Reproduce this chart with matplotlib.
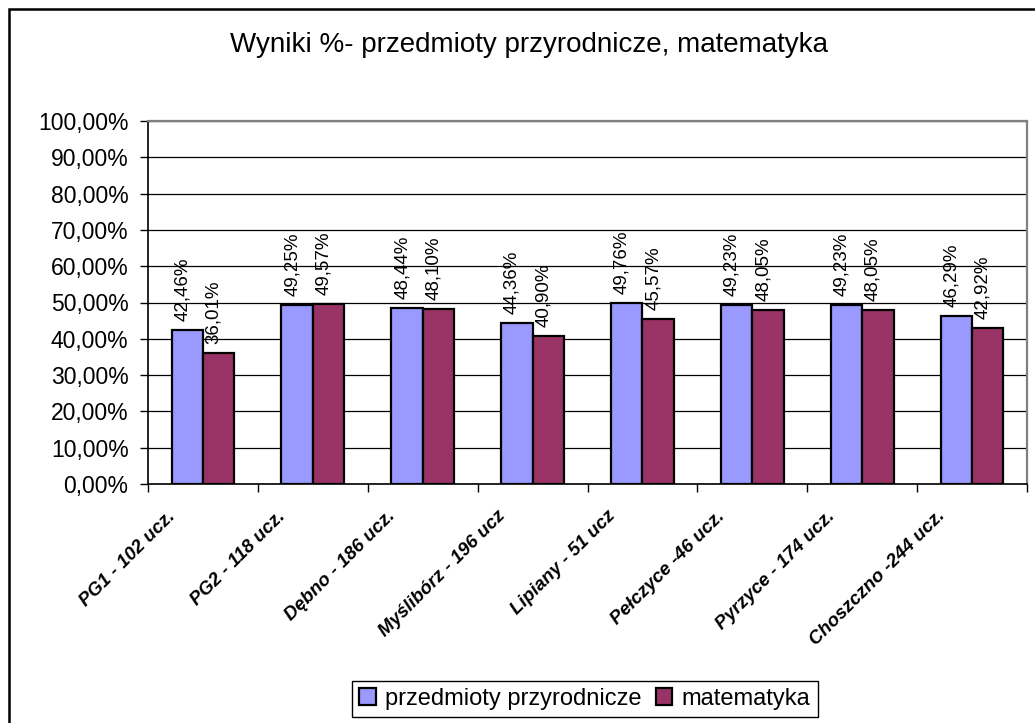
import numpy as np
import matplotlib.pyplot as plt
import matplotlib.transforms as mtransforms
from matplotlib.patches import Rectangle
from matplotlib.ticker import FixedLocator, FuncFormatter, MultipleLocator

plt.rcParams['font.family'] = ['Liberation Sans', 'DejaVu Sans']

# data (percent)
schools = ['PG1 - 102 ucz.', 'PG2 - 118 ucz.', 'Dębno - 186 ucz.', 'Myślibórz - 196 ucz',
           'Lipiany - 51 ucz', 'Pełczyce -46 ucz.', 'Pyrzyce - 174 ucz.', 'Choszczno -244 ucz.']
przyrodnicze = [42.46, 49.25, 48.44, 44.36, 49.76, 49.23, 49.23, 46.29]
matematyka = [36.01, 49.57, 48.10, 40.90, 45.57, 48.05, 48.05, 42.92]
series_names = ['przedmioty przyrodnicze', 'matematyka']
colors = ['#9999FF', '#993366']


def pct(v):
    return f'{v:.2f}%'.replace('.', ',')


fig = plt.figure(figsize=(10.35, 7.23), dpi=100)
W, H = 1035, 723
ax = fig.add_axes([148 / W, 1 - 484 / H, (1027 - 148) / W, (484 - 121) / H])

x = np.arange(len(schools))
w = 0.2857
b1 = ax.bar(x - w / 2, przyrodnicze, w, color=colors[0], edgecolor='black',
            linewidth=1.6, label=series_names[0], zorder=3)
b2 = ax.bar(x + w / 2, matematyka, w, color=colors[1], edgecolor='black',
            linewidth=1.6, label=series_names[1], zorder=3)

# value labels above the bars
for bars, vals in ((b1, przyrodnicze), (b2, matematyka)):
    for rect, v in zip(bars, vals):
        ax.annotate(pct(v), (rect.get_x() + rect.get_width() / 2, v),
                    xytext=(-3.5, 6.5), textcoords='offset points', rotation=90,
                    ha='center', va='bottom', fontsize=13.5)

ax.set_ylim(0, 100)
ax.set_xlim(-0.5, len(schools) - 0.5)
ax.yaxis.set_major_locator(MultipleLocator(10))
ax.yaxis.set_major_formatter(FuncFormatter(lambda v, p: pct(v)))
ax.yaxis.grid(True, color='black', linewidth=0.9)
ax.set_axisbelow(True)
ax.tick_params(axis='y', direction='out', length=6, width=1, labelsize=16.5, pad=8)

# ticks at category boundaries, labels at centres
ax.xaxis.set_major_locator(FixedLocator(np.arange(-0.5, len(schools), 1)))
ax.xaxis.set_major_formatter(FuncFormatter(lambda v, p: ''))
ax.xaxis.set_minor_locator(FixedLocator(x))
ax.set_xticklabels(schools, minor=True, rotation=45, ha='right',
                   style='italic', fontweight='bold', fontsize=13.5)
ax.tick_params(axis='x', which='major', direction='out', length=6, width=1)
ax.tick_params(axis='x', which='minor', length=0, pad=4)
offset = mtransforms.ScaledTranslation(-0.24, -0.18, fig.dpi_scale_trans)
for lbl in ax.get_xticklabels(minor=True):
    lbl.set_transform(lbl.get_transform() + offset)

for side in ('top', 'right'):
    ax.spines[side].set_color('#808080')
    ax.spines[side].set_linewidth(1.6)
for side in ('left', 'bottom'):
    ax.spines[side].set_color('black')
    ax.spines[side].set_linewidth(1.2)

fig.text(529 / W, 1 - 45 / H, 'Wyniki %- przedmioty przyrodnicze, matematyka',
         ha='center', va='center', fontsize=20)

fig.legend(loc='center', bbox_to_anchor=(585 / W, 1 - 699 / H), ncol=2,
           fontsize=17, frameon=True, fancybox=False, edgecolor='black',
           framealpha=1, handlelength=0.7, handleheight=0.7, handletextpad=0.4,
           columnspacing=0.6, borderpad=0.3)

# outer chart border
fig.add_artist(Rectangle((9 / W, -0.1), 1.2, 1.1 - 9 / H, transform=fig.transFigure,
                         fill=False, edgecolor='black', linewidth=1.8))

fig.savefig('out.png', dpi=100)
